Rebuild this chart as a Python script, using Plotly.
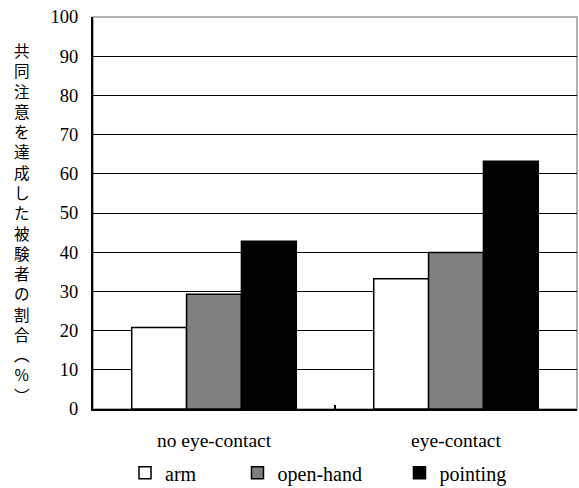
import plotly.graph_objects as go

categories = ["no eye-contact", "eye-contact"]
arm = [20.8, 33.2]
open_hand = [29.3, 39.9]
pointing = [42.8, 63.2]
series_names = ["arm", "open-hand", "pointing"]
y_ticks = [0, 10, 20, 30, 40, 50, 60, 70, 80, 90, 100]
y_title = "共同注意を達成した被験者の割合︵%︶"

serif = "Liberation Serif"

fig = go.Figure()
fig.add_trace(go.Bar(name=series_names[0], x=categories, y=arm,
                     marker=dict(color="white", line=dict(color="black", width=1.5)),
                     legend="legend"))
fig.add_trace(go.Bar(name=series_names[1], x=categories, y=open_hand,
                     marker=dict(color="#808080", line=dict(color="black", width=1.5)),
                     legend="legend2"))
fig.add_trace(go.Bar(name=series_names[2], x=categories, y=pointing,
                     marker=dict(color="black", line=dict(color="black", width=1.5)),
                     legend="legend3"))

leg_common = dict(orientation="h", yref="container", yanchor="middle", y=0.031,
                  xref="container", xanchor="left",
                  font=dict(family=serif, size=20, color="black"),
                  bgcolor="rgba(0,0,0,0)", borderwidth=0, itemwidth=30)

fig.update_layout(
    width=579, height=488,
    margin=dict(l=93, r=2, t=17, b=79, autoexpand=False),
    paper_bgcolor="white", plot_bgcolor="white",
    barmode="group", bargap=0.32, bargroupgap=0,
    showlegend=True,
    legend=dict(x=125 / 579, **leg_common),
    legend2=dict(x=237.5 / 579, **leg_common),
    legend3=dict(x=399.5 / 579, **leg_common),
    xaxis=dict(showline=True, linecolor="black", linewidth=2,
               ticks="inside", tickson="boundaries", ticklen=4, tickcolor="black", tickwidth=1.5,
               tickfont=dict(family=serif, size=19.5, color="black"), ticklabelstandoff=13,
               showgrid=False),
    yaxis=dict(range=[0, 100], tickvals=y_ticks, showline=True, linecolor="black", linewidth=2,
               showgrid=True, gridcolor="black", gridwidth=1.2,
               ticks="", ticklabelstandoff=9,
               tickfont=dict(family=serif, size=18.5, color="black"),
               zeroline=False),
    shapes=[dict(type="rect", xref="paper", yref="paper", x0=0, x1=1, y0=0, y1=1,
                 line=dict(color="#999999", width=1.5), layer="below")],
    annotations=[dict(text="<br>".join(list(y_title)), xref="paper", yref="paper",
                      x=-0.147, y=0.477, xanchor="center", yanchor="middle", showarrow=False,
                      align="center",
                      font=dict(family="Noto Sans CJK JP", size=15.6, color="black"))],
)

fig.write_html("out.html", config={"displayModeBar": False},
               post_script="document.body.style.margin='0';")
